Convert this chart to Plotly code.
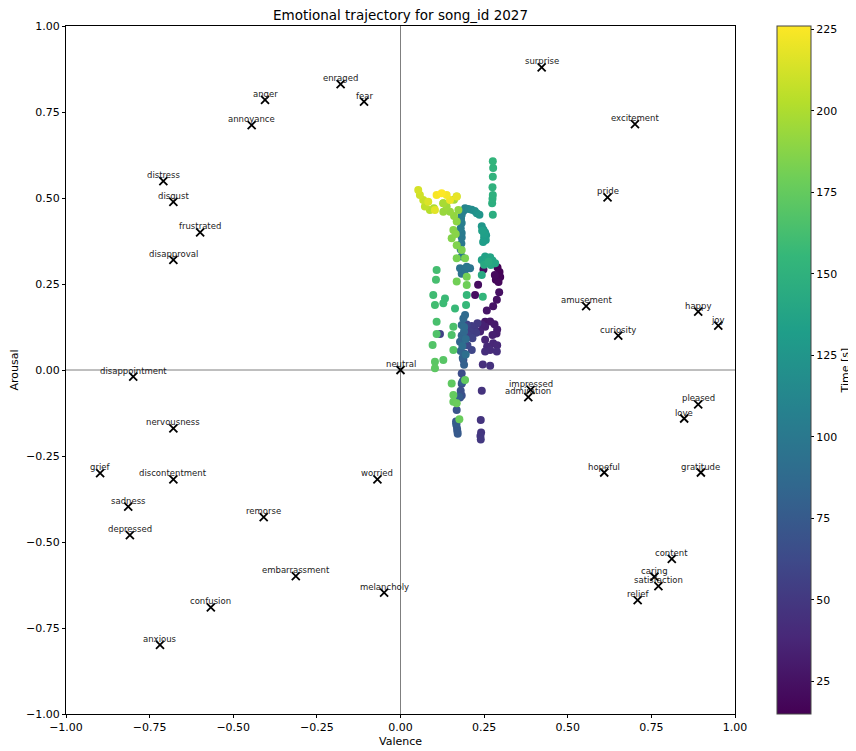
import plotly.graph_objects as go

# ---------------- data ----------------
emotion_names = ["surprise", "excitement", "pride", "amusement", "happy", "joy", "curiosity",
                 "impressed", "admiration", "pleased", "love", "hopeful", "gratitude",
                 "content", "caring", "satisfaction", "relief", "neutral",
                 "enraged", "fear", "anger", "annoyance", "distress", "disgust", "frustrated",
                 "disapproval", "disappointment", "nervousness", "grief", "discontentment",
                 "worried", "sadness", "remorse", "depressed", "embarrassment", "melancholy",
                 "confusion", "anxious"]
emotion_valence = [0.422, 0.701, 0.619, 0.555, 0.890, 0.950, 0.651,
                   0.389, 0.382, 0.890, 0.848, 0.609, 0.898,
                   0.811, 0.759, 0.771, 0.709, 0.0,
                   -0.179, -0.109, -0.405, -0.445, -0.709, -0.679, -0.599,
                   -0.679, -0.799, -0.679, -0.898, -0.679,
                   -0.069, -0.814, -0.409, -0.809, -0.313, -0.049,
                   -0.567, -0.719]
emotion_arousal = [0.880, 0.715, 0.502, 0.186, 0.170, 0.129, 0.100,
                   -0.058, -0.079, -0.100, -0.141, -0.298, -0.298,
                   -0.549, -0.601, -0.628, -0.669, 0.0,
                   0.831, 0.780, 0.785, 0.712, 0.549, 0.489, 0.400,
                   0.320, -0.019, -0.170, -0.300, -0.318,
                   -0.318, -0.397, -0.428, -0.480, -0.599, -0.647,
                   -0.690, -0.799]

time_s = [15, 16, 17, 18, 19, 20, 21, 22, 23, 24, 25, 26, 27,
          28, 29, 30, 31, 32, 33, 34, 35, 36,
          37, 38, 39, 40, 41, 42, 43, 44, 45,
          46, 47, 48, 49, 50,
          51, 52, 53, 54, 55, 56, 57, 58, 59, 60,
          61, 62, 63, 64, 65, 66, 67, 68, 69, 70, 71, 72, 73, 74, 75, 76, 77,
          78, 80, 81, 82, 83, 84, 85, 86, 87, 88, 89, 90, 91, 92,
          93, 94, 95, 96, 97, 98, 99, 100, 101, 102, 103, 104, 105, 106, 107,
          110, 113, 116, 119, 122, 125,
          126, 127, 128, 129, 130, 131, 132, 133, 134,
          135, 136, 137, 138, 139, 140, 141, 142, 143, 144,
          146, 147, 148, 149, 150, 151, 152, 153,
          154, 155, 156, 157, 158, 159, 160, 161, 162, 163, 164, 165, 166, 167, 168,
          169, 170, 171, 172, 173, 174, 175, 176, 177, 178, 179, 180,
          181, 182, 183, 184, 185, 186, 187, 188, 189, 190, 191, 192, 193, 194, 195, 196, 197,
          198, 200, 203, 206, 209, 211, 213, 215, 217, 219, 221, 223, 224, 226]
valence = [0.290, 0.296, 0.298, 0.285, 0.293, 0.282, 0.248, 0.232, 0.223, 0.295, 0.288, 0.277, 0.258,
           0.253, 0.268, 0.281, 0.289, 0.287, 0.275, 0.253, 0.243, 0.238,
           0.253, 0.277, 0.289, 0.259, 0.268, 0.288, 0.253, 0.246, 0.268,
           0.243, 0.240, 0.241, 0.239, 0.240,
           0.230, 0.221, 0.213, 0.226, 0.208, 0.203, 0.118, 0.215, 0.198, 0.213,
           0.200, 0.190, 0.188, 0.183, 0.188, 0.183, 0.180, 0.183, 0.178, 0.168, 0.166, 0.167, 0.169, 0.170, 0.171, 0.167, 0.175,
           0.185, 0.190, 0.186, 0.180, 0.178, 0.183, 0.190, 0.183, 0.188, 0.193, 0.190, 0.195, 0.185, 0.195,
           0.183, 0.178, 0.193, 0.208, 0.198, 0.183, 0.180, 0.182, 0.183, 0.183, 0.180, 0.183, 0.181, 0.183, 0.188,
           0.193, 0.203, 0.213, 0.222, 0.228, 0.236,
           0.243, 0.248, 0.253, 0.256, 0.250, 0.255, 0.247, 0.250, 0.244,
           0.253, 0.243, 0.258, 0.268, 0.275, 0.283, 0.270, 0.250, 0.243, 0.263,
           0.276, 0.274, 0.275, 0.276, 0.275, 0.276, 0.277, 0.276,
           0.246, 0.198, 0.196, 0.163, 0.133, 0.128, 0.098, 0.103, 0.108, 0.106, 0.108, 0.158, 0.153, 0.108, 0.096,
           0.158, 0.128, 0.103, 0.103, 0.153, 0.193, 0.158, 0.158, 0.176, 0.168, 0.198, 0.168,
           0.198, 0.168, 0.193, 0.183, 0.168, 0.153, 0.158, 0.165, 0.168, 0.173, 0.160, 0.148, 0.128, 0.128, 0.138, 0.168, 0.160,
           0.128, 0.100, 0.088, 0.073, 0.068, 0.058, 0.053, 0.083, 0.103, 0.168, 0.148, 0.138, 0.108, 0.123]
arousal = [0.298, 0.285, 0.270, 0.262, 0.256, 0.276, 0.292, 0.248, 0.218, 0.226, 0.204, 0.185, 0.173,
           0.140, 0.141, 0.133, 0.118, 0.106, 0.102, 0.126, 0.132, 0.112,
           0.088, 0.078, 0.072, 0.068, 0.058, 0.054, 0.054, 0.016, 0.012,
           -0.060, -0.145, -0.182, -0.192, -0.202,
           0.136, 0.124, 0.128, 0.108, 0.112, 0.100, 0.105, 0.092, 0.132, 0.058,
           0.072, 0.048, 0.030, -0.010, -0.030, -0.040, -0.060, -0.074, -0.080, -0.116, -0.150, -0.160, -0.170, -0.178, -0.185, -0.155, -0.078,
           -0.035, 0.015, 0.035, 0.055, 0.082, 0.100, 0.112, 0.131, 0.150, 0.160, 0.125, 0.090, 0.070, 0.045,
           0.280, 0.296, 0.291, 0.296, 0.300, 0.330, 0.350, 0.368, 0.385, 0.398, 0.412, 0.427, 0.440, 0.451, 0.462,
           0.470, 0.468, 0.466, 0.462, 0.456, 0.451,
           0.418, 0.408, 0.400, 0.392, 0.385, 0.378, 0.372, 0.395, 0.405,
           0.330, 0.320, 0.322, 0.328, 0.318, 0.310, 0.305, 0.306, 0.276, 0.315,
           0.451, 0.485, 0.498, 0.509, 0.531, 0.562, 0.587, 0.607,
           0.213, 0.218, 0.189, 0.179, 0.208, 0.194, 0.218, 0.189, 0.291, 0.262, 0.140, 0.126, 0.102, 0.105, 0.073,
           0.058, 0.029, 0.024, 0.005, -0.039, -0.029, -0.073, -0.092, -0.143, -0.097, 0.247, 0.257,
           0.271, 0.325, 0.325, 0.349, 0.363, 0.383, 0.407, 0.395, 0.432, 0.465, 0.448, 0.460, 0.460, 0.485, 0.475, 0.504, 0.495,
           0.485, 0.470, 0.465, 0.475, 0.494, 0.509, 0.523, 0.489, 0.465, 0.504, 0.494, 0.509, 0.509, 0.514]

axis_ticks = [-1.0, -0.75, -0.5, -0.25, 0.0, 0.25, 0.5, 0.75, 1.0]
cbar_ticks = [25, 50, 75, 100, 125, 150, 175, 200, 225]

FONT = "DejaVu Sans"

# page body has an 8px default margin; size the figure so it fills the window
FIG_W, FIG_H = 848, 743
PLOT_W, PLOT_H = 669, 688
M_L, M_T = 58, 18

# ---------------- figure ----------------
fig = go.Figure()

fig.add_trace(go.Scatter(
    x=valence, y=arousal, mode="markers",
    marker=dict(size=8, color=time_s, colorscale="Viridis",
                cmin=min(time_s), cmax=max(time_s),
                line=dict(width=0),
                colorbar=dict(
                    x=(777 - 66) / PLOT_W, xanchor="left", xpad=0,
                    y=0.5, yanchor="middle", len=1.0, lenmode="fraction", ypad=0,
                    thickness=34, thicknessmode="pixels",
                    outlinewidth=1, outlinecolor="#444",
                    tickvals=cbar_ticks, ticks="outside", ticklen=3, tickwidth=1,
                    tickcolor="black", tickfont=dict(family=FONT, size=11, color="black"),
                    title=dict(text="Time [s]", side="right",
                               font=dict(family=FONT, size=11, color="black")),
                )),
    showlegend=False, hoverinfo="skip"))

fig.add_trace(go.Scatter(
    x=emotion_valence, y=emotion_arousal, mode="markers",
    marker=dict(symbol="x-thin", size=8, color="black",
                line=dict(width=1.8, color="black")),
    showlegend=False, hoverinfo="skip"))

for name, vx, vy in zip(emotion_names, emotion_valence, emotion_arousal):
    fig.add_annotation(x=vx, y=vy, text=name, showarrow=False,
                       xanchor="center", yanchor="bottom", yshift=-1,
                       font=dict(family=FONT, size=8.5, color="#222"))

fig.add_shape(type="line", xref="x", yref="paper", x0=0, x1=0, y0=0, y1=1,
              line=dict(color="#7f7f7f", width=1), layer="below")
fig.add_shape(type="line", xref="paper", yref="y", x0=0, x1=1, y0=0, y1=0,
              line=dict(color="#7f7f7f", width=1), layer="below")

axis_common = dict(range=[-1, 1], tickvals=axis_ticks, tickformat=".2f",
                   showgrid=False, zeroline=False, showline=True, linecolor="black",
                   linewidth=1, mirror=True, ticks="outside", ticklen=3, tickwidth=1,
                   tickcolor="black", tickfont=dict(family=FONT, size=11, color="black"))

fig.update_layout(
    width=FIG_W, height=FIG_H,
    margin=dict(l=M_L, r=FIG_W - M_L - PLOT_W, t=M_T, b=FIG_H - M_T - PLOT_H, autoexpand=False),
    paper_bgcolor="white", plot_bgcolor="white",
    title=dict(text="Emotional trajectory for song_id 2027",
               x=(M_L + PLOT_W / 2) / FIG_W,
               xanchor="center", y=1 - 7 / FIG_H, yanchor="middle",
               font=dict(family=FONT, size=13.5, color="black")),
    xaxis=dict(**axis_common, automargin=False,
               title=dict(text="Valence", standoff=4,
                          font=dict(family=FONT, size=11, color="black"))),
    yaxis=dict(**axis_common, automargin=False,
               title=dict(text="Arousal", standoff=8,
                          font=dict(family=FONT, size=11, color="black"))),
)

fig.write_html("out.html")
